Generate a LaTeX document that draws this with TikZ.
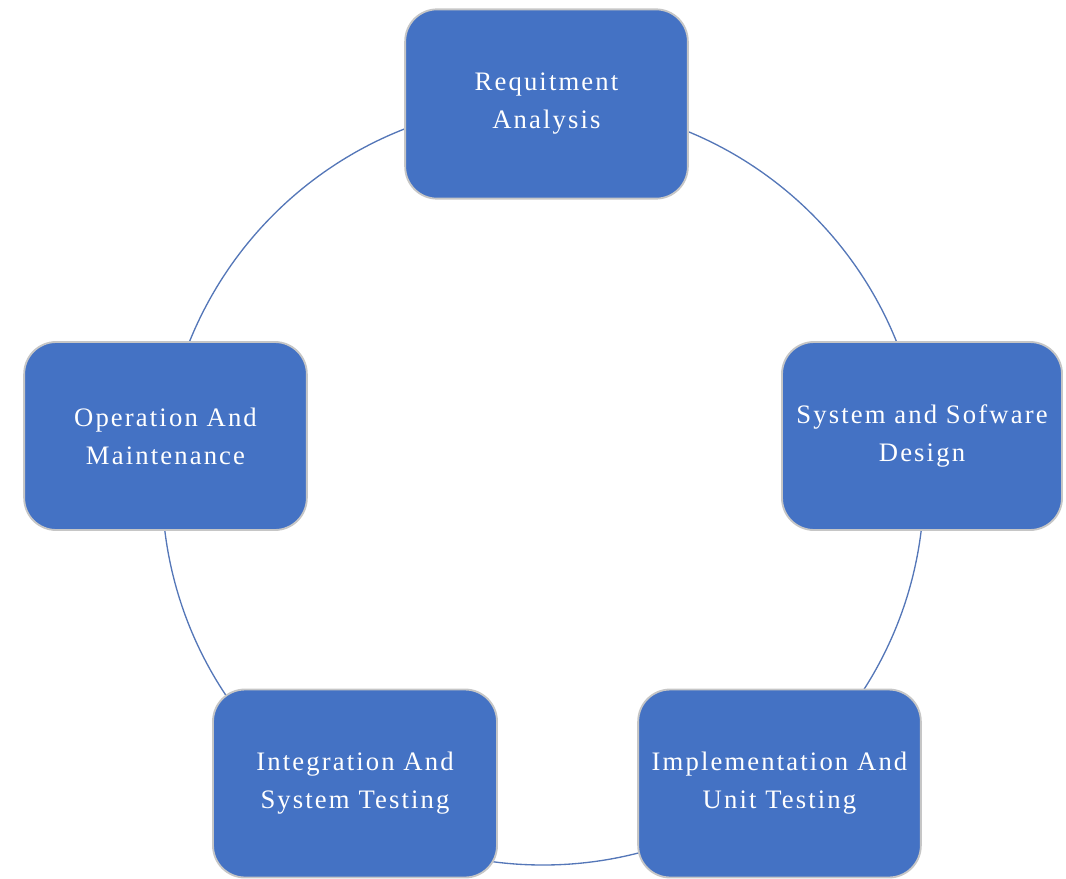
\documentclass[tikz,border=0pt]{standalone}
\usepackage{fontspec}
\setmainfont{Liberation Serif}
\newfontfamily\phasefont[LetterSpace=8]{Liberation Serif}

\definecolor{phaseblue}{HTML}{4472C4}
\definecolor{ringblue}{HTML}{5577B8}

\tikzset{
    phase/.style={rectangle, rounded corners=24pt, fill=phaseblue,
        draw=gray!45, line width=1.4pt, text=white, align=center,
        font=\phasefont\fontsize{20}{28.5}\selectfont, inner sep=0pt},
}

\begin{document}
\begin{tikzpicture}[x=0.75pt, y=-0.75pt]
    \useasboundingbox (0,0) rectangle (1066,878);
    \clip (0,0) rectangle (1066,878);

    % Ring behind the phases
    \draw[ringblue, line width=1pt] (543,484) circle[radius=381*0.75pt];

    % Phases
    \node[phase, minimum width=212pt, minimum height=142pt] (req)
        at (546.5,104) {Requitment\\Analysis};
    \node[phase, minimum width=210pt, minimum height=141pt] (design)
        at (922,436) {System and Sofware\\Design};
    \node[phase, minimum width=212pt, minimum height=141pt] (impl)
        at (779.5,783.5) {Implementation And\\Unit Testing};
    \node[phase, minimum width=213pt, minimum height=141pt] (integ)
        at (355,783.5) {Integration And\\System Testing};
    \node[phase, minimum width=212pt, minimum height=141pt] (oper)
        at (165.5,436) {Operation And\\Maintenance};
\end{tikzpicture}
\end{document}
